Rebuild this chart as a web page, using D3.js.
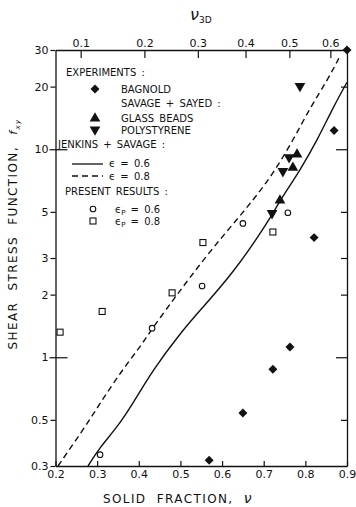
<!DOCTYPE html>
<html>
<head>
<meta charset="utf-8">
<script src="https://cdn.jsdelivr.net/npm/d3@7"></script>
<style>
  body { margin: 0; background: #fff; }
  svg text { font-family: "DejaVu Sans", sans-serif; fill: #111; }
</style>
</head>
<body>
<div id="chart"></div>
<script>
// ---------- data (solid fraction nu, shear stress function f_xy) ----------
let bagnoldNu = [0.569, 0.650, 0.722, 0.763, 0.821, 0.869, 0.900];
let bagnoldF  = [0.32, 0.54, 0.875, 1.12, 3.76, 12.3, 30];

let glassNu = [0.739, 0.770, 0.780];
let glassF  = [5.7, 8.2, 9.5];

let polyNu = [0.720, 0.746, 0.761, 0.787];
let polyF  = [4.9, 7.8, 9.1, 20];

let jenkins06Nu = [0.278, 0.307, 0.348, 0.386, 0.434, 0.499, 0.547, 0.626, 0.708, 0.739, 0.787, 0.828, 0.866, 0.900];
let jenkins06F  = [0.30, 0.37, 0.46, 0.60, 0.87, 1.30, 1.68, 2.53, 4.39, 5.67, 7.9, 11, 15.8, 21];

let jenkins08Nu = [0.206, 0.266, 0.307, 0.355, 0.403, 0.434, 0.482, 0.506, 0.564, 0.619, 0.674, 0.722, 0.770, 0.811, 0.852, 0.883];
let jenkins08F  = [0.30, 0.447, 0.60, 0.84, 1.12, 1.39, 1.88, 2.18, 3.1, 4.2, 5.67, 7.6, 11, 15.8, 21.3, 28];

let present06Nu = [0.307, 0.432, 0.552, 0.650, 0.758];
let present06F  = [0.34, 1.38, 2.2, 4.4, 4.95];

let present08Nu = [0.211, 0.312, 0.480, 0.554, 0.722];
let present08F  = [1.32, 1.66, 2.04, 3.56, 4.0];

let xTicks = [0.2, 0.3, 0.4, 0.5, 0.6, 0.7, 0.8, 0.9];
let yTicks = [0.3, 0.5, 1, 2, 3, 5, 10, 20, 30];
let yTickLabels = ["0.3", "0.5", "1", "2", "3", "5", "10", "20", "30"];
let rightTicks = [0.5, 1, 2, 3, 5, 10, 20];
let topTicks = [0.1, 0.2, 0.3, 0.4, 0.5, 0.6];

// ---------- layout ----------
let w = 356, h = 507;
let plotLeft = 55.5, plotRight = 347, plotTop = 50, plotBottom = 466;
let ink = "#111";

let svg = d3.select("#chart").append("svg")
  .attr("width", w)
  .attr("height", h);

let x = d3.scaleLinear().domain([0.2, 0.9]).range([plotLeft, plotRight]);
let y = d3.scaleLog().domain([0.3, 30]).range([plotBottom, plotTop]);

// 3D solid fraction: nu3D = 4/(3 sqrt(pi)) * nu^1.5  ->  nu is linear in nu3D^(2/3)
let nu3d = function(v) { return 4 / (3 * Math.sqrt(Math.PI)) * Math.pow(v, 1.5); };
let xTop = d3.scalePow().exponent(2 / 3)
  .domain([nu3d(0.2), nu3d(0.9)])
  .range([plotLeft, plotRight]);

// ---------- axes ----------
function styleAxis(g) {
  g.selectAll("path.domain").attr("stroke", ink).attr("stroke-width", 1.3);
  g.selectAll(".tick line").attr("stroke", ink).attr("stroke-width", 1.2);
  g.selectAll(".tick text").attr("fill", ink).attr("font-size", "11px")
    .attr("font-family", "DejaVu Sans, sans-serif");
}

let xAxis = d3.axisBottom(x).tickValues(xTicks).tickSize(-5).tickSizeOuter(0)
  .tickPadding(4).tickFormat(d3.format(".1f"));
svg.append("g").attr("transform", "translate(0," + plotBottom + ")").call(xAxis).call(styleAxis);

let topAxis = d3.axisTop(xTop).tickValues(topTicks).tickSize(-8).tickSizeOuter(0)
  .tickPadding(3).tickFormat(d3.format(".1f"));
svg.append("g").attr("transform", "translate(0," + plotTop + ")").call(topAxis).call(styleAxis);

let yAxis = d3.axisLeft(y).tickValues(yTicks).tickSize(5).tickSizeOuter(0).tickPadding(2)
  .tickFormat(function(d, i) { return yTickLabels[i]; });
let gy = svg.append("g").attr("transform", "translate(" + plotLeft + ",0)").call(yAxis).call(styleAxis);
gy.selectAll(".tick").filter(function(d) { return d === 1 || d === 10; })
  .select("line").attr("x1", 12).attr("x2", -6);

let rightAxis = d3.axisRight(y).tickValues(rightTicks).tickSize(-6).tickSizeOuter(0)
  .tickFormat("");
let gr = svg.append("g").attr("transform", "translate(" + plotRight + ",0)").call(rightAxis).call(styleAxis);
gr.selectAll(".tick").filter(function(d) { return d === 1 || d === 10; })
  .select("line").attr("x2", -11);

// axis titles
let xTitle = svg.append("text")
  .attr("x", 178).attr("y", 503)
  .attr("text-anchor", "middle")
  .attr("font-size", "12px")
  .attr("letter-spacing", "1.4")
  .attr("word-spacing", "5");
xTitle.append("tspan").text("SOLID FRACTION, ");
xTitle.append("tspan").attr("font-style", "italic").attr("font-size", "14px").text("ν");

let top3d = svg.append("text").attr("x", 190).attr("y", 20);
top3d.append("tspan").attr("font-style", "italic").attr("font-size", "16px").text("ν");
top3d.append("tspan").attr("font-size", "9px").attr("dy", 3).text("3D");

let yTitle = svg.append("text")
  .attr("transform", "translate(17,234) rotate(-90)")
  .attr("text-anchor", "middle")
  .attr("font-size", "12px")
  .attr("letter-spacing", "1.4")
  .attr("word-spacing", "6");
yTitle.append("tspan").text("SHEAR STRESS FUNCTION, ");
yTitle.append("tspan").attr("font-style", "italic").attr("font-size", "11px").text("f");
yTitle.append("tspan").attr("font-style", "italic").attr("font-size", "7px").attr("dy", 3).text("xy");

// ---------- curves ----------
let line = d3.line()
  .x(function(d) { return x(d[0]); })
  .y(function(d) { return y(d[1]); })
  .curve(d3.curveBasis);

svg.append("path")
  .datum(d3.zip(jenkins06Nu, jenkins06F))
  .attr("d", line)
  .attr("fill", "none").attr("stroke", ink).attr("stroke-width", 1.4);

svg.append("path")
  .datum(d3.zip(jenkins08Nu, jenkins08F))
  .attr("d", line)
  .attr("fill", "none").attr("stroke", ink).attr("stroke-width", 1.4)
  .attr("stroke-dasharray", "6,4");

// ---------- markers ----------
let diamond = d3.symbol().type(d3.symbolSquare).size(40);
let tri = d3.symbol().type(d3.symbolTriangle).size(50);

function drawPoints(nu, f, draw) {
  d3.zip(nu, f).forEach(function(p) { draw(x(p[0]), y(p[1])); });
}

function putDiamond(px, py) {
  svg.append("path").attr("d", diamond)
    .attr("transform", "translate(" + px + "," + py + ") rotate(45)").attr("fill", ink);
}
function putUp(px, py) {
  svg.append("path").attr("d", tri)
    .attr("transform", "translate(" + px + "," + (py + 0.5) + ")").attr("fill", ink);
}
function putDown(px, py) {
  svg.append("path").attr("d", tri)
    .attr("transform", "translate(" + px + "," + (py - 0.5) + ") rotate(180)").attr("fill", ink);
}
function putCircle(px, py) {
  svg.append("circle").attr("cx", px).attr("cy", py).attr("r", 2.8)
    .attr("fill", "#fff").attr("stroke", ink).attr("stroke-width", 1.1);
}
function putSquare(px, py) {
  svg.append("rect").attr("x", px - 3).attr("y", py - 3).attr("width", 6).attr("height", 6)
    .attr("fill", "#fff").attr("stroke", ink).attr("stroke-width", 1.1);
}

drawPoints(present06Nu, present06F, putCircle);
drawPoints(present08Nu, present08F, putSquare);
drawPoints(bagnoldNu, bagnoldF, putDiamond);
drawPoints(glassNu, glassF, putUp);
drawPoints(polyNu, polyF, putDown);

// ---------- legend ----------
let fs = "10px";
function label(tx, ty, s) {
  return svg.append("text").attr("x", tx).attr("y", ty).attr("font-size", fs)
    .attr("word-spacing", "2").text(s);
}

label(66, 76, "EXPERIMENTS :");
putDiamond(95, 89);
label(121, 93, "BAGNOLD");
label(121, 107, "SAVAGE + SAYED :");
putUp(95, 118);
label(121, 122, "GLASS BEADS");
putDown(95, 130);
label(121, 134, "POLYSTYRENE");

label(58, 148, "JENKINS + SAVAGE :");
svg.append("line").attr("x1", 72).attr("x2", 103).attr("y1", 164).attr("y2", 164)
  .attr("stroke", ink).attr("stroke-width", 1.3);
label(109, 167, "ϵ = 0.6");
svg.append("line").attr("x1", 72).attr("x2", 103).attr("y1", 176).attr("y2", 176)
  .attr("stroke", ink).attr("stroke-width", 1.3).attr("stroke-dasharray", "6,4");
label(109, 180, "ϵ = 0.8");

label(65, 195, "PRESENT RESULTS :");
putCircle(93, 209);
let l1 = label(115, 213, "ϵ");
l1.append("tspan").attr("font-size", "7px").attr("dy", 2).text("P");
l1.append("tspan").attr("dy", -2).text(" = 0.6");
putSquare(93, 221);
let l2 = label(115, 225, "ϵ");
l2.append("tspan").attr("font-size", "7px").attr("dy", 2).text("P");
l2.append("tspan").attr("dy", -2).text(" = 0.8");
</script>
</body>
</html>
